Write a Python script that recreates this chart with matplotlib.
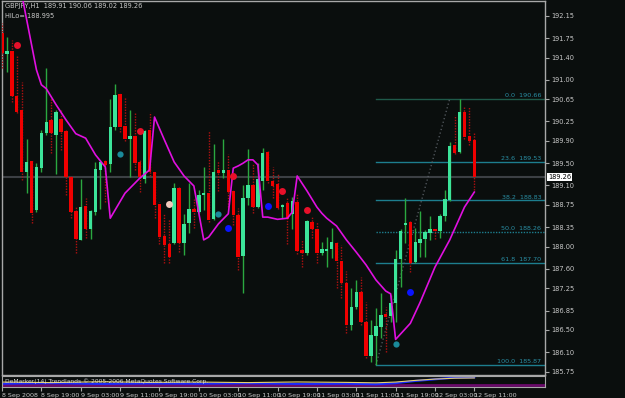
import matplotlib
matplotlib.use("Agg")
import matplotlib.pyplot as plt
import numpy as np

# ---------------- data ----------------
time_labels = ["8 Sep 2008", "8 Sep 19:00", "9 Sep 03:00", "9 Sep 11:00", "9 Sep 19:00",
               "10 Sep 03:00", "10 Sep 11:00", "10 Sep 19:00", "11 Sep 03:00", "11 Sep 11:00",
               "11 Sep 19:00", "12 Sep 03:00", "12 Sep 11:00"]
time_label_bars = [0, 8, 16, 24, 32, 40, 48, 56, 64, 72, 80, 88, 96]

opens = [191.84, 191.46, 191.52, 190.71, 190.46, 189.34, 189.54, 188.66, 189.41, 190.04,
         190.28, 190.00, 190.30, 190.08, 189.25, 188.64, 188.12, 188.73, 188.32, 188.62,
         189.38, 189.54, 189.48, 190.15, 190.74, 190.17, 189.93, 189.99, 189.52, 189.22,
         190.10, 189.34, 188.77, 188.19, 188.05, 188.06, 189.05, 188.06, 188.42, 188.67,
         188.62, 188.93, 188.96, 188.49, 189.38, 189.32, 189.38, 189.00, 188.56, 187.83,
         188.87, 189.10, 188.72, 189.18, 189.70, 189.18, 189.12, 188.71, 188.78, 188.58,
         188.80, 187.94, 187.88, 188.44, 188.32, 187.88, 187.92, 187.95, 188.06, 187.74,
         187.34, 186.59, 186.91, 187.18, 186.64, 186.03, 186.39, 186.55, 186.79, 186.75,
         186.98, 187.77, 188.38, 188.44, 187.72, 188.06, 188.13, 188.24, 188.32, 188.28,
         188.55, 188.84, 189.83, 189.70, 190.42, 189.99, 189.91]
highs = [192.02, 191.77, 191.72, 191.42, 190.96, 189.93, 189.56, 189.50, 190.10, 191.21,
         190.67, 190.46, 190.45, 190.10, 189.27, 188.71, 189.21, 188.87, 188.66, 189.52,
         189.55, 189.56, 190.65, 190.92, 190.76, 190.69, 190.46, 190.42, 189.55, 190.10,
         190.42, 189.36, 188.80, 188.60, 188.50, 189.14, 189.07, 188.58, 189.14, 188.85,
         189.01, 189.43, 190.08, 189.85, 189.54, 189.93, 189.66, 189.02, 188.70, 189.10,
         189.75, 189.50, 189.50, 189.78, 189.72, 189.43, 189.30, 188.76, 188.89, 188.89,
         188.96, 188.12, 188.48, 188.53, 188.44, 188.08, 188.17, 188.33, 188.10, 188.03,
         187.56, 187.26, 187.40, 187.45, 187.00, 186.68, 186.89, 187.16, 186.91, 187.13,
         187.94, 188.32, 188.87, 188.46, 188.33, 188.64, 188.30, 188.55, 188.34, 188.58,
         189.02, 189.88, 190.36, 190.66, 190.51, 190.51, 190.06]
lows = [191.21, 191.14, 190.60, 190.40, 189.20, 188.96, 188.42, 188.62, 189.35, 190.01,
        189.68, 189.30, 189.74, 188.92, 188.51, 187.88, 188.11, 188.15, 188.13, 188.56,
        188.68, 188.80, 189.34, 190.10, 190.06, 189.90, 189.25, 189.38, 188.99, 189.14,
        189.27, 188.51, 188.05, 187.70, 187.70, 188.05, 187.90, 187.85, 188.24, 188.33,
        188.60, 188.66, 188.45, 188.47, 189.00, 189.23, 188.71, 188.38, 187.58, 187.17,
        188.74, 188.60, 188.69, 189.02, 189.14, 188.87, 188.67, 188.51, 188.05, 188.32,
        187.86, 187.63, 187.85, 188.15, 187.70, 187.85, 187.63, 187.79, 187.26, 187.08,
        186.45, 186.50, 186.88, 186.59, 186.00, 185.92, 185.87, 186.36, 186.10, 186.64,
        186.64, 187.27, 188.06, 187.54, 187.70, 187.81, 187.81, 188.12, 188.14, 188.15,
        188.46, 188.82, 189.66, 189.68, 189.93, 189.83, 189.02]
closes = [191.48, 191.51, 190.71, 190.42, 189.34, 189.52, 188.60, 189.43, 190.05, 190.24,
          190.05, 190.42, 190.06, 189.25, 188.62, 188.13, 188.71, 188.32, 188.64, 189.39,
          189.52, 189.47, 190.15, 190.72, 190.15, 189.93, 189.99, 189.50, 189.25, 190.08,
          189.34, 188.75, 188.17, 188.02, 187.81, 189.05, 188.06, 188.40, 188.67, 188.62,
          188.92, 188.95, 188.47, 189.34, 189.32, 189.38, 188.98, 188.56, 187.81, 188.87,
          189.10, 188.72, 189.21, 189.68, 189.18, 189.09, 188.69, 188.75, 188.49, 188.82,
          187.92, 187.88, 188.46, 188.31, 187.88, 187.95, 187.96, 188.08, 187.74, 187.34,
          186.59, 186.91, 187.18, 186.64, 186.03, 186.41, 186.57, 186.77, 186.73, 186.98,
          187.77, 188.28, 188.43, 187.70, 188.08, 188.14, 188.26, 188.32, 188.28, 188.55,
          188.86, 189.81, 189.68, 190.42, 189.97, 189.90, 189.26]

# HiLo indicator line: (bar, price) vertices
hilo_bars = [4.2, 7, 8, 9, 11, 13, 15, 17, 19, 21, 22, 25, 28, 30, 31, 33, 35, 37, 39, 41,
             42, 44, 46, 47, 48, 49, 50, 51, 52, 53, 54, 56, 58, 59, 60, 62, 64, 65, 66, 68,
             70, 72, 74, 76, 78, 79, 80, 83, 85, 88, 91, 94, 96]
hilo_vals = [192.45, 191.18, 190.91, 190.84, 190.55, 190.28, 190.03, 189.95, 189.65, 189.43,
             188.51, 188.96, 189.23, 189.38, 190.33, 189.92, 189.52, 189.27, 189.09, 188.12,
             188.17, 188.41, 188.59, 189.41, 189.45, 189.50, 189.56, 189.56, 189.47, 188.53,
             188.53, 188.49, 188.51, 188.62, 189.27, 189.00, 188.71, 188.60, 188.51, 188.37,
             188.12, 187.90, 187.67, 187.40, 187.20, 187.15, 186.33, 186.62, 187.00, 187.63,
             188.12, 188.71, 188.98]

red_dot_bars = [3, 28, 47, 57, 62]
red_dot_vals = [191.63, 190.08, 189.27, 189.00, 188.66]
blue_dot_bars = [46, 54, 83]
blue_dot_vals = [188.33, 188.73, 187.18]
teal_dot_bars = [24, 44, 80]
teal_dot_vals = [189.66, 188.58, 186.25]
white_dot_bars = [34]
white_dot_vals = [188.76]

fib_ratios = ["0.0", "23.6", "38.2", "50.0", "61.8", "100.0"]
fib_prices = [190.66, 189.53, 188.83, 188.26, 187.70, 185.87]
fib_start_bar = 76
fib_trend_bars = [76, 91]
fib_trend_vals = [185.87, 190.66]

price_ticks = [192.15, 191.75, 191.40, 191.00, 190.65, 190.25, 189.90, 189.50, 189.10,
               188.75, 188.35, 188.00, 187.60, 187.25, 186.85, 186.50, 186.10, 185.75]
last_price = 189.26

# sub-window indicator (rough)
sub_bars = [0, 10, 20, 30, 40, 50, 60, 70, 76, 80, 84, 88, 92, 96]
sub_blue = [30, 35, 28, 32, 30, 34, 28, 30, 25, 35, 55, 70, 85, 88]
sub_yellow = [45, 40, 48, 42, 45, 40, 46, 42, 38, 45, 60, 72, 80, 82]
sub_purple_level = 22

# ---------------- plot ----------------
BG = "#0a0e0d"
W, H = 625, 398
fig = plt.figure(figsize=(W / 100, H / 100), dpi=100, facecolor=BG)
NARROW = ["Liberation Sans Narrow", "DejaVu Sans"]

left_px, right_px, top_px, bot_px = 2, 545, 1, 375
ax = fig.add_axes([left_px / W, 1 - bot_px / H, (right_px - left_px) / W, (bot_px - top_px) / H])
ax.set_facecolor(BG)
px_per_bar = 4.92
ax.set_xlim(0, (right_px - left_px) / px_per_bar)
ax.set_ylim(185.69, 192.417)

# current price line
ax.axhline(last_price, color="#3c4044", lw=1.5, zorder=1)

# fib levels
for r, p in zip(fib_ratios, fib_prices):
    col = "#1f5a4a" if r == "0.0" else "#1d7e8e"
    ls = (0, (1, 1)) if r == "50.0" else "-"
    ax.plot([fib_start_bar, 111], [p, p], color=col, lw=1, ls=ls, zorder=2)
    ax.text(109.6, p + 0.015, f"{r}  {p:.2f}", color="#2a8fa5", fontsize=4.6,
            ha="right", va="bottom", zorder=3)
ax.plot(fib_trend_bars, fib_trend_vals, color="#5a6066", lw=0.9, ls=(0, (1, 2)), zorder=2)

# candles
bw = 0.7
for i, (o, h, l, c) in enumerate(zip(opens, highs, lows, closes)):
    bull = c >= o
    if bull:
        ax.vlines(i, l, h, color="#2aa840", lw=1, zorder=3)
        col = "#3ce49a"
    else:
        ax.vlines(i, l, h, color="#b01010", lw=1, linestyles=(0, (1, 1)), zorder=3)
        col = "#f00000"
    bot = min(o, c)
    ht = max(abs(c - o), 0.035)
    ax.bar(i, ht, bottom=bot, width=bw, color=col, edgecolor="none", zorder=4)

# HiLo line
ax.plot(hilo_bars, hilo_vals, color="#e010e0", lw=1.2, zorder=5)

# dots
ax.plot(red_dot_bars, red_dot_vals, "o", color="#e8102a", ms=5, mec="none", zorder=6)
ax.plot(blue_dot_bars, blue_dot_vals, "o", color="#0a14ff", ms=5, mec="none", zorder=6)
ax.plot(teal_dot_bars, teal_dot_vals, "o", color="#1a8a9a", ms=4.5, mec="none", zorder=6)
ax.plot(white_dot_bars, white_dot_vals, "o", color="#f2c8bc", ms=5, mec="none", zorder=6)

# axes styling
for s in ["left", "top", "right", "bottom"]:
    ax.spines[s].set_color("#a8a8a8")
    ax.spines[s].set_linewidth(1)
ax.set_xticks([])
ax.yaxis.tick_right()
ax.set_yticks(price_ticks)
ax.set_yticklabels([f"{v:.2f}" for v in price_ticks])
ax.tick_params(axis="y", direction="out", length=3, width=0.8, color="#a8a8a8",
               labelsize=4.8, labelcolor="#c8c8c8", pad=1.5)

# current price box
ax.text(1.006, (last_price - 185.69) / (192.417 - 185.69), f"{last_price:.2f}",
        transform=ax.transAxes, fontsize=4.8, color="black", va="center", ha="left",
        bbox=dict(boxstyle="square,pad=0.15", fc="white", ec="none"), zorder=10)

# title
ax.text(0.006, 0.995, "GBPJPY,H1  189.91 190.06 189.02 189.26", transform=ax.transAxes,
        fontsize=4.8, color="#c8c8c8", va="top", ha="left")
ax.text(0.006, 0.968, "HiLo= 188.995", transform=ax.transAxes,
        fontsize=4.8, color="#c8c8c8", va="top", ha="left")

# sub window
sub_top, sub_bot = 376, 387
sx = fig.add_axes([left_px / W, 1 - sub_bot / H, (right_px - left_px) / W, (sub_bot - sub_top) / H])
sx.set_facecolor(BG)
sx.set_xlim(0, (right_px - left_px) / px_per_bar)
sx.set_ylim(0, 100)
sx.axhline(sub_purple_level, color="#6a0a6a", lw=2)
sx.plot(sub_bars, sub_blue, color="#1a2aff", lw=1.5)
sx.plot(sub_bars, sub_yellow, color="#e8d070", lw=0.8)
sx.text(0.006, 0.55, "DeMarker(14) Trendlands © 2005-2006 MetaQuotes Software Corp.",
        transform=sx.transAxes, fontsize=4.3, color="#d8d8d8", va="center", ha="left")
for s in ["left", "top", "right", "bottom"]:
    sx.spines[s].set_color("#a8a8a8")
sx.set_yticks([])
sx.set_xticks(time_label_bars)
sx.set_xticklabels(time_labels)
sx.tick_params(axis="x", direction="out", length=3, width=0.8, color="#a8a8a8",
               labelsize=4.6, labelcolor="#c8c8c8", pad=1)
for lab in sx.get_xticklabels():
    lab.set_ha("left")
    lab.set_family(NARROW)

fig.savefig("out.png", dpi=100, facecolor=BG)
